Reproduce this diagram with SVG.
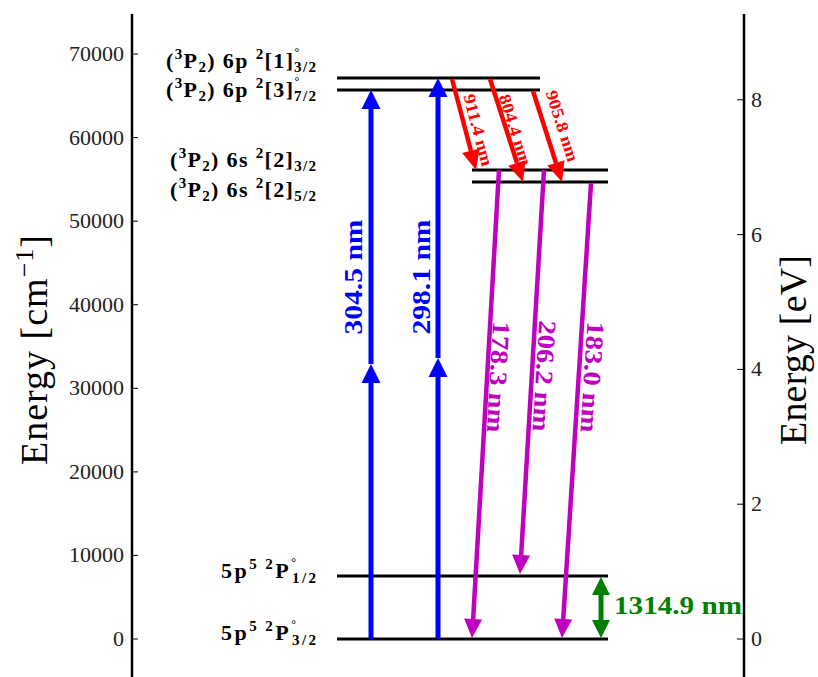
<svg xmlns="http://www.w3.org/2000/svg" width="818" height="677" viewBox="0 0 818 677">
<defs>
<style>
.ax{stroke:#000;stroke-width:2.5;fill:none}
.tk{stroke:#000;stroke-width:1}
.tl{font-family:"Liberation Serif",serif;font-size:22px;fill:#222}
.lab{font-family:"Liberation Serif",serif;font-size:38px;fill:#000}
.lvl{stroke:#000;stroke-width:3}
.st{font-family:"Liberation Serif",serif;font-weight:bold;font-size:22px;fill:#000}
.sc{font-size:15px}
.dg{font-size:12px}
.bl{stroke:#0000ff;stroke-width:5;fill:none}
.blh{fill:#0000ff}
.rd{stroke:#ff0000;stroke-width:4.5;fill:none}
.rdh{fill:#ff0000}
.mg{stroke:#bf00bf;stroke-width:4.5;fill:none}
.mgh{fill:#bf00bf}
.gr{stroke:#008000;stroke-width:5;fill:none}
.grh{fill:#008000}
.tb{font-family:"Liberation Serif",serif;font-weight:bold;font-size:25px}
.tr{font-family:"Liberation Serif",serif;font-weight:bold;font-size:17px;fill:#ff0000}
</style>
</defs>
<rect width="818" height="677" fill="#fff"/>

<g id="axes">
<line class="ax" x1="132" y1="14" x2="132" y2="677"/>
<line class="ax" x1="744" y1="14" x2="744" y2="677"/>
<g class="tk">
<line x1="132" y1="639" x2="138" y2="639"/>
<line x1="132" y1="555.4" x2="138" y2="555.4"/>
<line x1="132" y1="471.9" x2="138" y2="471.9"/>
<line x1="132" y1="388.3" x2="138" y2="388.3"/>
<line x1="132" y1="304.7" x2="138" y2="304.7"/>
<line x1="132" y1="221.2" x2="138" y2="221.2"/>
<line x1="132" y1="137.6" x2="138" y2="137.6"/>
<line x1="132" y1="54" x2="138" y2="54"/>
<line x1="737" y1="639" x2="744" y2="639"/>
<line x1="737" y1="504.2" x2="744" y2="504.2"/>
<line x1="737" y1="369.4" x2="744" y2="369.4"/>
<line x1="737" y1="234.6" x2="744" y2="234.6"/>
<line x1="737" y1="99.8" x2="744" y2="99.8"/>
</g>
<g class="tl" text-anchor="end">
<text x="124" y="646">0</text>
<text x="124" y="562.4">10000</text>
<text x="124" y="478.9">20000</text>
<text x="124" y="395.3">30000</text>
<text x="124" y="311.7">40000</text>
<text x="124" y="228.2">50000</text>
<text x="124" y="144.6">60000</text>
<text x="124" y="61">70000</text>
</g>
<g class="tl">
<text x="751" y="646">0</text>
<text x="751" y="511.2">2</text>
<text x="751" y="376.4">4</text>
<text x="751" y="241.6">6</text>
<text x="751" y="106.8">8</text>
</g>
<text class="lab" transform="translate(47,350) rotate(-90)" text-anchor="middle" textLength="230" lengthAdjust="spacing">Energy [cm<tspan font-size="26" dy="-14">−1</tspan><tspan dy="14">]</tspan></text>
<text class="lab" transform="translate(806,350) rotate(-90)" text-anchor="middle" textLength="190" lengthAdjust="spacing">Energy [eV]</text>
</g>

<g id="level-5p-3-2">
<line class="lvl" x1="337" y1="639" x2="608" y2="639"/>
<text class="st" x="316" y="640" text-anchor="end" textLength="95" lengthAdjust="spacing">5p<tspan class="sc" dy="-9">5 2</tspan><tspan dy="9">P</tspan><tspan class="dg" dy="-12">°</tspan><tspan class="sc" dx="-6.5" dy="17">3/2</tspan></text>
</g>
<g id="level-5p-1-2">
<line class="lvl" x1="337" y1="576" x2="608" y2="576"/>
<text class="st" x="316" y="578" text-anchor="end" textLength="95" lengthAdjust="spacing">5p<tspan class="sc" dy="-9">5 2</tspan><tspan dy="9">P</tspan><tspan class="dg" dy="-12">°</tspan><tspan class="sc" dx="-6.5" dy="17">1/2</tspan></text>
</g>
<g id="level-6s-5-2">
<line class="lvl" x1="472" y1="182" x2="608" y2="182"/>
<text class="st" x="316" y="197" text-anchor="end" textLength="146" lengthAdjust="spacing">(<tspan class="sc" dy="-9">3</tspan><tspan dy="9">P</tspan><tspan class="sc" dy="4">2</tspan><tspan dy="-4">) 6s </tspan><tspan class="sc" dy="-9">2</tspan><tspan dy="9">[2]</tspan><tspan class="sc" dy="4">5/2</tspan></text>
</g>
<g id="level-6s-3-2">
<line class="lvl" x1="472" y1="170" x2="608" y2="170"/>
<text class="st" x="316" y="167" text-anchor="end" textLength="146" lengthAdjust="spacing">(<tspan class="sc" dy="-9">3</tspan><tspan dy="9">P</tspan><tspan class="sc" dy="4">2</tspan><tspan dy="-4">) 6s </tspan><tspan class="sc" dy="-9">2</tspan><tspan dy="9">[2]</tspan><tspan class="sc" dy="4">3/2</tspan></text>
</g>
<g id="level-6p-7-2">
<line class="lvl" x1="337" y1="90" x2="540" y2="90"/>
<text class="st" x="316" y="97" text-anchor="end" textLength="150" lengthAdjust="spacing">(<tspan class="sc" dy="-9">3</tspan><tspan dy="9">P</tspan><tspan class="sc" dy="4">2</tspan><tspan dy="-4">) 6p </tspan><tspan class="sc" dy="-9">2</tspan><tspan dy="9">[3]</tspan><tspan class="dg" dy="-12">°</tspan><tspan class="sc" dx="-6.5" dy="16">7/2</tspan></text>
</g>
<g id="level-6p-3-2">
<line class="lvl" x1="337" y1="78" x2="540" y2="78"/>
<text class="st" x="316" y="68" text-anchor="end" textLength="150" lengthAdjust="spacing">(<tspan class="sc" dy="-9">3</tspan><tspan dy="9">P</tspan><tspan class="sc" dy="4">2</tspan><tspan dy="-4">) 6p </tspan><tspan class="sc" dy="-9">2</tspan><tspan dy="9">[1]</tspan><tspan class="dg" dy="-12">°</tspan><tspan class="sc" dx="-6.5" dy="16">3/2</tspan></text>
</g>

<g id="connectors">
<g id="blue-304">
<line class="bl" x1="371" y1="639" x2="371" y2="381"/>
<polygon class="blh" points="371,364 380.5,383 361.5,383"/>
<line class="bl" x1="371" y1="364" x2="371" y2="106"/>
<polygon class="blh" points="371,90 380.5,109 361.5,109"/>
<text class="tb" fill="#0000ff" transform="translate(362,277) rotate(-90)" text-anchor="middle" textLength="115" lengthAdjust="spacingAndGlyphs">304.5 nm</text>
</g>
<g id="blue-298">
<line class="bl" x1="438" y1="639" x2="438" y2="375"/>
<polygon class="blh" points="438,358 447.5,377 428.5,377"/>
<line class="bl" x1="438" y1="358" x2="438" y2="94"/>
<polygon class="blh" points="438,78 447.5,97 428.5,97"/>
<text class="tb" fill="#0000ff" transform="translate(430,277) rotate(-90)" text-anchor="middle" textLength="115" lengthAdjust="spacingAndGlyphs">298.1 nm</text>
</g>
<g id="red-911">
<line class="rd" x1="452" y1="79" x2="471" y2="151"/>
<polygon class="rdh" points="476,170 462.2,153 479.6,148.4"/>
<text class="tr" transform="translate(472.6,131.4) rotate(75.2)" text-anchor="middle" textLength="74" lengthAdjust="spacingAndGlyphs">911.4 nm</text>
</g>
<g id="red-804">
<line class="rd" x1="490" y1="79" x2="517" y2="163"/>
<polygon class="rdh" points="523,182 508.3,165.7 525.5,160.3"/>
<text class="tr" transform="translate(509.7,131.7) rotate(72.2)" text-anchor="middle" textLength="74" lengthAdjust="spacingAndGlyphs">804.4 nm</text>
</g>
<g id="red-905">
<line class="rd" x1="533" y1="91" x2="556" y2="163"/>
<polygon class="rdh" points="562,182 547.3,165.6 564.5,160.2"/>
<text class="tr" transform="translate(556.7,127.7) rotate(72.3)" text-anchor="middle" textLength="74" lengthAdjust="spacingAndGlyphs">905.8 nm</text>
</g>
<g id="mag-178">
<line class="mg" x1="499" y1="170" x2="473.1" y2="620"/>
<polygon class="mgh" points="472,638 464.1,618.5 482.1,619.5"/>
<text class="tb" fill="#bf00bf" transform="translate(490,376.5) rotate(93.3)" text-anchor="middle" textLength="111" lengthAdjust="spacingAndGlyphs">178.3 nm</text>
</g>
<g id="mag-206">
<line class="mg" x1="544" y1="170" x2="521.1" y2="556"/>
<polygon class="mgh" points="520,574 512.1,554.5 530.1,555.5"/>
<text class="tb" fill="#bf00bf" transform="translate(536,375.5) rotate(93.4)" text-anchor="middle" textLength="111" lengthAdjust="spacingAndGlyphs">206.2 nm</text>
</g>
<g id="mag-183">
<line class="mg" x1="591" y1="183" x2="563.2" y2="620"/>
<polygon class="mgh" points="562,638 554.2,618.4 572.2,619.6"/>
<text class="tb" fill="#bf00bf" transform="translate(584,376.5) rotate(93.6)" text-anchor="middle" textLength="111" lengthAdjust="spacingAndGlyphs">183.0 nm</text>
</g>
<g id="green-1314">
<line class="gr" x1="601" y1="594" x2="601" y2="621"/>
<polygon class="grh" points="601,577 610,595 592,595"/>
<polygon class="grh" points="601,638 610,620 592,620"/>
<text class="tb" fill="#008000" x="614" y="614" font-size="24" textLength="128" lengthAdjust="spacingAndGlyphs">1314.9 nm</text>
</g>
</g>
</svg>
